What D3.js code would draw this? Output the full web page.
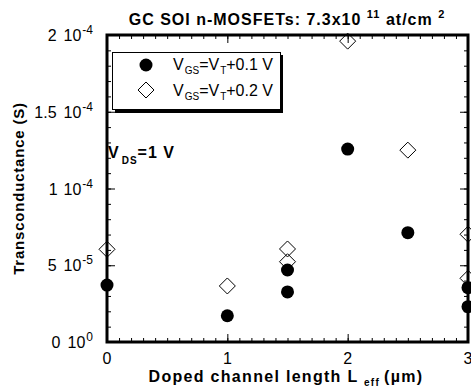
<!DOCTYPE html>
<html>
<head>
<meta charset="utf-8">
<script src="https://cdn.jsdelivr.net/npm/d3@7"></script>
<style>
  html, body { margin: 0; padding: 0; background: #fff; }
  svg { display: block; font-family: "Liberation Sans", Arial, sans-serif; }
</style>
</head>
<body>
<svg id="chart" width="471" height="387"></svg>
<script>
// ---- data ----
const circleX = [0, 1, 1.5, 1.5, 2, 2.5, 3, 3];
const circleY = [3.71e-5, 1.71e-5, 4.69e-5, 3.26e-5, 1.257e-4, 7.12e-5, 3.54e-5, 2.30e-5];
const diamondX = [0, 1, 1.5, 1.5, 2, 2.5, 3, 3];
const diamondY = [6.04e-5, 3.65e-5, 6.06e-5, 5.23e-5, 1.96e-4, 1.25e-4, 7.02e-5, 4.15e-5];
const xTicks = [0, 1, 2, 3];
const xTickLabels = ["0", "1", "2", "3"];
const yTicks = [0, 5e-5, 1e-4, 1.5e-4, 2e-4];
const yTickMantissa = ["0", "5", "1", "1.5", "2"];
const yTickExponent = ["0", "-5", "-4", "-4", "-4"];

const svg = d3.select("#chart");
const x = d3.scaleLinear().domain([0, 3]).range([107, 468]);
const y = d3.scaleLinear().domain([0, 2e-4]).range([342, 35]);

// ---- ticks (inward) ----
const minorX = d3.range(0, 3.0001, 0.1).map(v => +v.toFixed(2));
const minorY = d3.range(0, 2.0001e-4, 1e-5);

const gT = svg.append("g");
gT.append("g").attr("transform", `translate(0,${y(0)})`)
  .call(d3.axisBottom(x).tickValues(minorX).tickSize(-4).tickFormat(""));
gT.append("g").attr("transform", `translate(0,${y(0)})`)
  .call(d3.axisBottom(x).tickValues(xTicks).tickSize(-8).tickFormat(""));
gT.append("g").attr("transform", `translate(0,${y(2e-4)})`)
  .call(d3.axisTop(x).tickValues(minorX).tickSize(-4).tickFormat(""));
gT.append("g").attr("transform", `translate(0,${y(2e-4)})`)
  .call(d3.axisTop(x).tickValues(xTicks).tickSize(-8).tickFormat(""));
gT.append("g").attr("transform", `translate(${x(0)},0)`)
  .call(d3.axisLeft(y).tickValues(minorY).tickSize(-4).tickFormat(""));
gT.append("g").attr("transform", `translate(${x(0)},0)`)
  .call(d3.axisLeft(y).tickValues(yTicks).tickSize(-8).tickFormat(""));
gT.append("g").attr("transform", `translate(${x(3)},0)`)
  .call(d3.axisRight(y).tickValues(minorY).tickSize(-4).tickFormat(""));
gT.append("g").attr("transform", `translate(${x(3)},0)`)
  .call(d3.axisRight(y).tickValues(yTicks).tickSize(-8).tickFormat(""));
gT.selectAll(".domain").remove();
gT.selectAll(".tick line").attr("stroke", "#000").attr("stroke-width", 1);

// ---- frame ----
svg.append("rect")
  .attr("x", x(0)).attr("y", y(2e-4))
  .attr("width", x(3) - x(0)).attr("height", y(0) - y(2e-4))
  .attr("fill", "none").attr("stroke", "#000").attr("stroke-width", 3);

// ---- tick labels ----
svg.append("g").selectAll("text").data(xTicks).join("text")
  .attr("x", d => x(d)).attr("y", 364)
  .attr("text-anchor", "middle").attr("font-size", 16)
  .text((d, i) => xTickLabels[i]);

const yl = svg.append("g").selectAll("text").data(yTicks).join("text")
  .attr("x", 93).attr("y", d => y(d) + 6)
  .attr("text-anchor", "end").attr("font-size", 16);
yl.append("tspan").text((d, i) => yTickMantissa[i]);
yl.append("tspan").attr("dx", 7).text("10");
yl.append("tspan").attr("font-size", 12).attr("dy", -7).attr("dx", 1).text((d, i) => yTickExponent[i]);

// ---- legend ----
const lg = svg.append("g");
lg.append("rect").attr("x", 115).attr("y", 55).attr("width", 168).attr("height", 58).attr("fill", "#000");
lg.append("rect").attr("x", 112.5).attr("y", 52.5).attr("width", 168).attr("height", 57)
  .attr("fill", "#fff").attr("stroke", "#000").attr("stroke-width", 1);

// ---- markers ----
const diamondPath = "M0,-8L8,0L0,8L-8,0Z";
svg.append("g").selectAll("path").data(diamondX).join("path")
  .attr("d", diamondPath)
  .attr("transform", (d, i) => `translate(${x(d)},${y(diamondY[i])})`)
  .attr("fill", "none").attr("stroke", "#000").attr("stroke-width", 1);
svg.append("g").selectAll("circle").data(circleX).join("circle")
  .attr("cx", d => x(d)).attr("cy", (d, i) => y(circleY[i]))
  .attr("r", 6.5).attr("fill", "#000");

// legend entries
lg.append("circle").attr("cx", 146).attr("cy", 65).attr("r", 6.5).attr("fill", "#000");
lg.append("path").attr("d", diamondPath).attr("transform", "translate(146,90)")
  .attr("fill", "none").attr("stroke", "#000");
function vgsLabel(yb, val) {
  const t = lg.append("text").attr("x", 173).attr("y", yb).attr("font-size", 16);
  t.append("tspan").text("V");
  t.append("tspan").attr("font-size", 10).attr("dy", 4).attr("dx", 1).text("GS");
  t.append("tspan").attr("dy", -4).text("=V");
  t.append("tspan").attr("font-size", 10).attr("dy", 4).attr("dx", 1).text("T");
  t.append("tspan").attr("dy", -4).text("+" + val + " V");
}
vgsLabel(70, "0.1");
vgsLabel(96, "0.2");

// ---- VDS label ----
const vds = svg.append("text").attr("x", 108).attr("y", 158).attr("font-size", 16)
  .attr("font-weight", "bold").attr("letter-spacing", 1);
vds.append("tspan").text("V");
vds.append("tspan").attr("font-size", 10).attr("dy", 6).attr("dx", 2).text("DS");
vds.append("tspan").attr("dy", -6).text("=1 V");

// ---- title ----
const title = svg.append("text").attr("x", 287).attr("y", 25).attr("text-anchor", "middle")
  .attr("font-size", 16).attr("font-weight", "bold").attr("letter-spacing", 1);
title.append("tspan").text("GC SOI n-MOSFETs: 7.3x10 ");
title.append("tspan").attr("font-size", 11).attr("dy", -7).text("11");
title.append("tspan").attr("dy", 7).text(" at/cm ");
title.append("tspan").attr("font-size", 11).attr("dy", -7).text("2");

// ---- axis titles ----
const xt = svg.append("text").attr("x", 286).attr("y", 382).attr("text-anchor", "middle")
  .attr("font-size", 16).attr("font-weight", "bold").attr("letter-spacing", 1.3);
xt.append("tspan").text("Doped channel length L ");
xt.append("tspan").attr("font-size", 10).attr("dy", 4).text("eff");
xt.append("tspan").attr("dy", -4).attr("dx", 4).text("(µm)");

svg.append("text").attr("transform", `translate(24,${(y(0) + y(2e-4)) / 2}) rotate(-90)`)
  .attr("text-anchor", "middle").attr("font-size", 15).attr("font-weight", "bold")
  .attr("letter-spacing", 0.8)
  .text("Transconductance (S)");
</script>
</body>
</html>
